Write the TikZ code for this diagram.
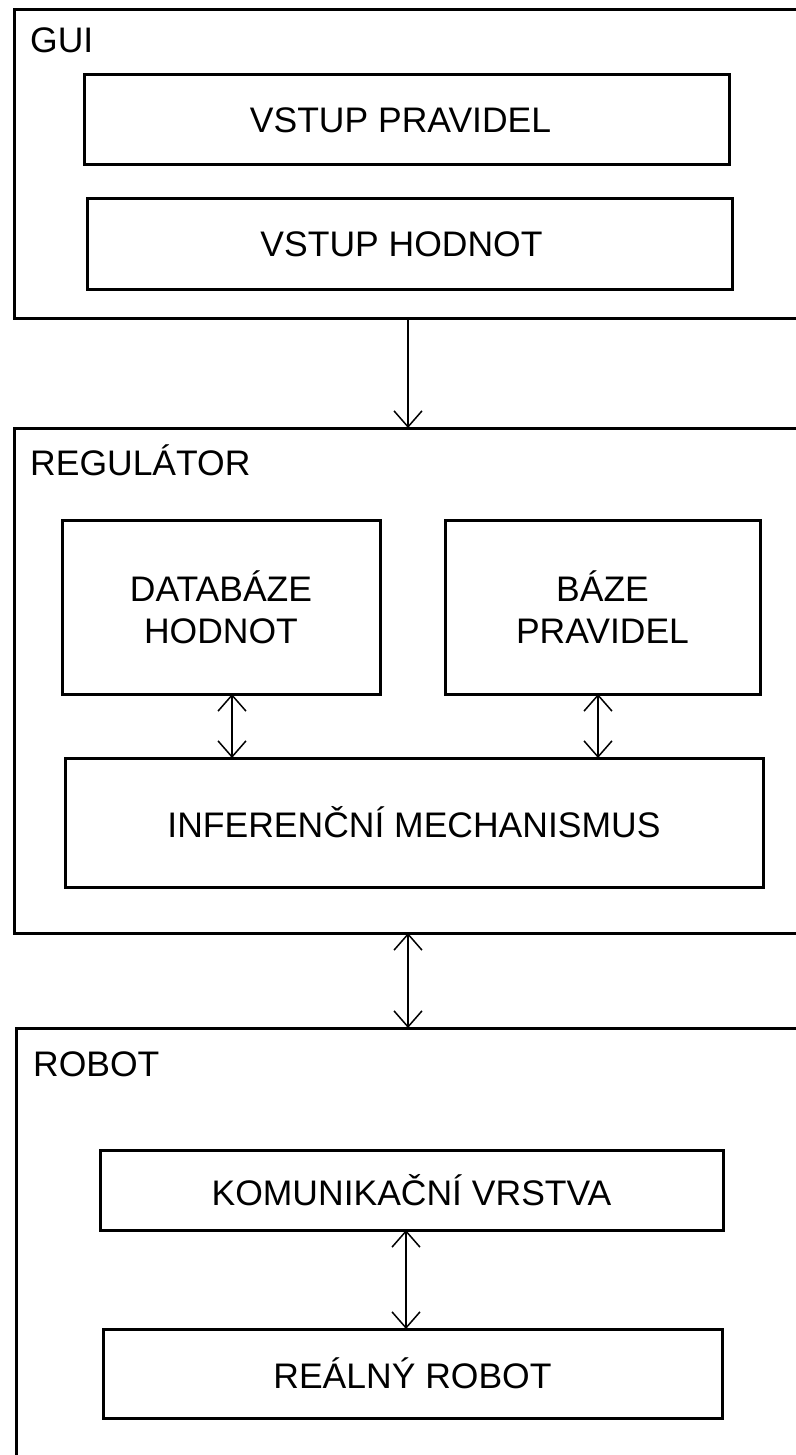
\documentclass[tikz,border=0pt]{standalone}
\usepackage{fontspec}
\setmainfont{Liberation Sans}
\usetikzlibrary{arrows.meta}
\begin{document}
\begin{tikzpicture}[x=1pt,y=-1pt,
  box/.style={draw,line width=3pt,rectangle,inner sep=0pt,outer sep=0pt,anchor=north west,font=\fontsize{35.5}{42}\selectfont,align=center},
  lbl/.style={anchor=base west,inner sep=0pt,font=\fontsize{35.5}{42}\selectfont},
  arr/.style={line width=1.5pt,-{Straight Barb[length=16pt,width=28pt,line width=1.5pt]}},
  darr/.style={line width=1.5pt,{Straight Barb[length=16pt,width=28pt,line width=1.5pt]}-{Straight Barb[length=16pt,width=28pt,line width=1.5pt]}}]
\useasboundingbox[fill=white] (0,0) rectangle (795,1455);
% outer boxes
\node[box,minimum width=800pt,minimum height=308pt] (gui) at (14,10) {};
\node[box,minimum width=800pt,minimum height=505pt] (reg) at (14,428) {};
\node[box,minimum width=800pt,minimum height=460pt] (rob) at (16,1028) {};
\node[lbl] (guil) at (30,53) {GUI};
\node[lbl] (regl) at (30,475) {REGULÁTOR};
\node[lbl] (robl) at (33,1076) {ROBOT};
% inner boxes
\node[box,minimum width=645pt,minimum height=90pt] (vp) at (84,75) {\raisebox{-2pt}{VSTUP PRAVIDEL}\hspace*{12pt}};
\node[box,minimum width=645pt,minimum height=90pt] (vh) at (87,199) {\raisebox{-5pt}{VSTUP HODNOT}\hspace*{16pt}};
\node[box,minimum width=318pt,minimum height=174pt] (db) at (62,520) {DATABÁZE\\HODNOT};
\node[box,minimum width=315pt,minimum height=174pt] (bp) at (445,520) {BÁZE\\PRAVIDEL};
\node[box,minimum width=698pt,minimum height=129pt] (inf) at (65,758) {INFERENČNÍ MECHANISMUS};
\node[box,minimum width=623pt,minimum height=80pt] (kom) at (100,1150) {KOMUNIKAČNÍ VRSTVA};
\node[box,minimum width=619pt,minimum height=89pt] (rr) at (103,1329) {REÁLNÝ ROBOT};
% arrow columns
\coordinate (c1) at (408,0);
\coordinate (c2) at (232,0);
\coordinate (c3) at (598,0);
\coordinate (c4) at (408,0);
\coordinate (c5) at (406,0);
\draw[arr] (gui.south -| c1) -- (reg.north -| c1);
\draw[darr] (db.south -| c2) -- (inf.north -| c2);
\draw[darr] (bp.south -| c3) -- (inf.north -| c3);
\draw[darr] (reg.south -| c4) -- (rob.north -| c4);
\draw[darr] (kom.south -| c5) -- (rr.north -| c5);
\end{tikzpicture}
\end{document}
